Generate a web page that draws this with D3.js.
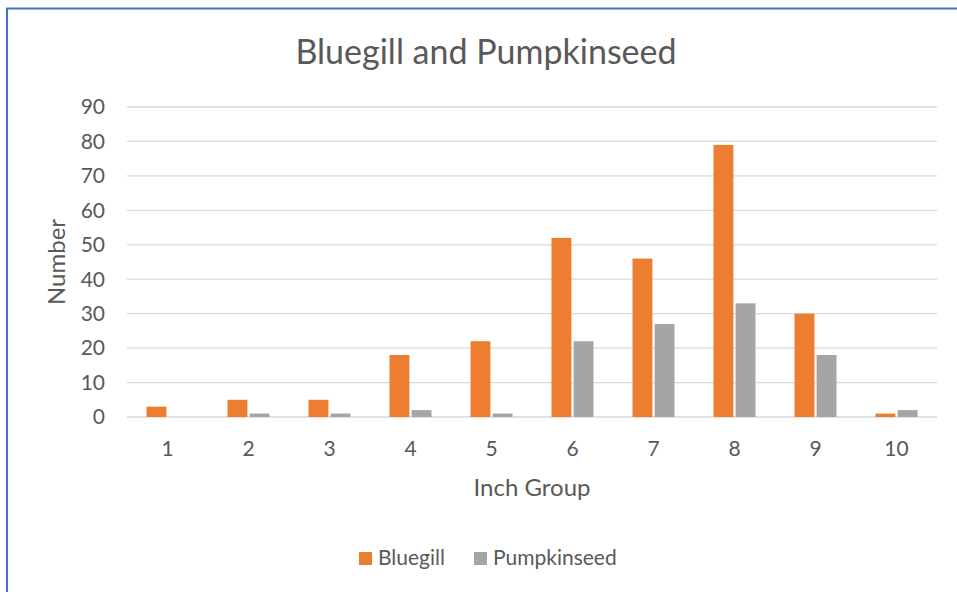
<!DOCTYPE html>
<html>
<head>
<meta charset="utf-8">
<script src="https://cdn.jsdelivr.net/npm/d3@7"></script>
<style>
  body { margin: 0; background: #fff; }
  svg { display: block; font-family: Lato, "Open Sans", sans-serif; }
</style>
</head>
<body>
<svg id="chart" width="957" height="592"></svg>
<script>
// data
var groups = ["1", "2", "3", "4", "5", "6", "7", "8", "9", "10"];
var bluegill = [3, 5, 5, 18, 22, 52, 46, 79, 30, 1];
var pumpkinseed = [0, 1, 1, 2, 1, 22, 27, 33, 18, 2];
var seriesNames = ["Bluegill", "Pumpkinseed"];
var yTicks = [0, 10, 20, 30, 40, 50, 60, 70, 80, 90];

var colors = ["#ED7D31", "#A5A5A5"];
var textColor = "#595959";

var svg = d3.select("#chart");

// outer frame (runs off the right and bottom edges)
svg.append("rect")
  .attr("x", 7).attr("y", 8.5)
  .attr("width", 1000).attr("height", 700)
  .attr("fill", "none")
  .attr("stroke", "#4472C4")
  .attr("stroke-width", 2);

// plot area (don't call it "top" - window.top is read only)
var plotLeft = 127, plotRight = 937, plotTop = 107, plotBottom = 417;

var x = d3.scaleBand().domain(groups).range([plotLeft, plotRight]);
var x1 = d3.scaleBand().domain(seriesNames).range([0, 42]).paddingInner(0.1);
var y = d3.scaleLinear().domain([0, 90]).range([plotBottom, plotTop]);

// gridlines
svg.append("g")
  .selectAll("line")
  .data(yTicks)
  .enter().append("line")
  .attr("x1", plotLeft).attr("x2", plotRight)
  .attr("y1", function (d) { return y(d); })
  .attr("y2", function (d) { return y(d); })
  .attr("stroke", "#D9D9D9")
  .attr("stroke-width", 1.3);

// y tick labels
svg.append("g")
  .selectAll("text")
  .data(yTicks)
  .enter().append("text")
  .attr("x", 105)
  .attr("y", function (d) { return y(d); })
  .attr("dy", "0.35em")
  .attr("text-anchor", "end")
  .attr("fill", textColor)
  .style("font-size", "21px")
  .text(function (d) { return d; });

// bars
var table = groups.map(function (g, i) {
  return { group: g, values: [bluegill[i], pumpkinseed[i]] };
});

var offset = (x.bandwidth() - 42) / 2;

var grp = svg.append("g")
  .selectAll("g")
  .data(table)
  .enter().append("g")
  .attr("transform", function (d) { return "translate(" + (x(d.group) + offset) + ",0)"; });

grp.selectAll("rect")
  .data(function (d) { return d.values.map(function (v, j) { return { name: seriesNames[j], value: v, j: j }; }); })
  .enter().append("rect")
  .attr("x", function (d) { return x1(d.name); })
  .attr("width", x1.bandwidth())
  .attr("y", function (d) { return y(d.value); })
  .attr("height", function (d) { return plotBottom - y(d.value); })
  .attr("fill", function (d) { return colors[d.j]; });

// x tick labels
svg.append("g")
  .selectAll("text")
  .data(groups)
  .enter().append("text")
  .attr("x", function (d) { return x(d) + x.bandwidth() / 2; })
  .attr("y", 456)
  .attr("text-anchor", "middle")
  .attr("fill", textColor)
  .style("font-size", "21px")
  .text(function (d) { return d; });

// title
svg.append("text")
  .attr("x", 486).attr("y", 64)
  .attr("text-anchor", "middle")
  .attr("fill", textColor)
  .style("font-size", "34px")
  .text("Bluegill and Pumpkinseed");

// axis titles
svg.append("text")
  .attr("x", 532).attr("y", 496)
  .attr("text-anchor", "middle")
  .attr("fill", textColor)
  .style("font-size", "24px")
  .text("Inch Group");

svg.append("text")
  .attr("transform", "translate(65,262) rotate(-90)")
  .attr("text-anchor", "middle")
  .attr("fill", textColor)
  .style("font-size", "24px")
  .text("Number");

// legend
var legendX = [359, 474];
var leg = svg.append("g")
  .selectAll("g")
  .data(seriesNames)
  .enter().append("g")
  .attr("transform", function (d, i) { return "translate(" + legendX[i] + ",552)"; });

leg.append("rect")
  .attr("width", 13).attr("height", 13)
  .attr("fill", function (d, i) { return colors[i]; });

leg.append("text")
  .attr("x", 19).attr("y", 13)
  .attr("fill", textColor)
  .style("font-size", "21px")
  .text(function (d) { return d; });
</script>
</body>
</html>
